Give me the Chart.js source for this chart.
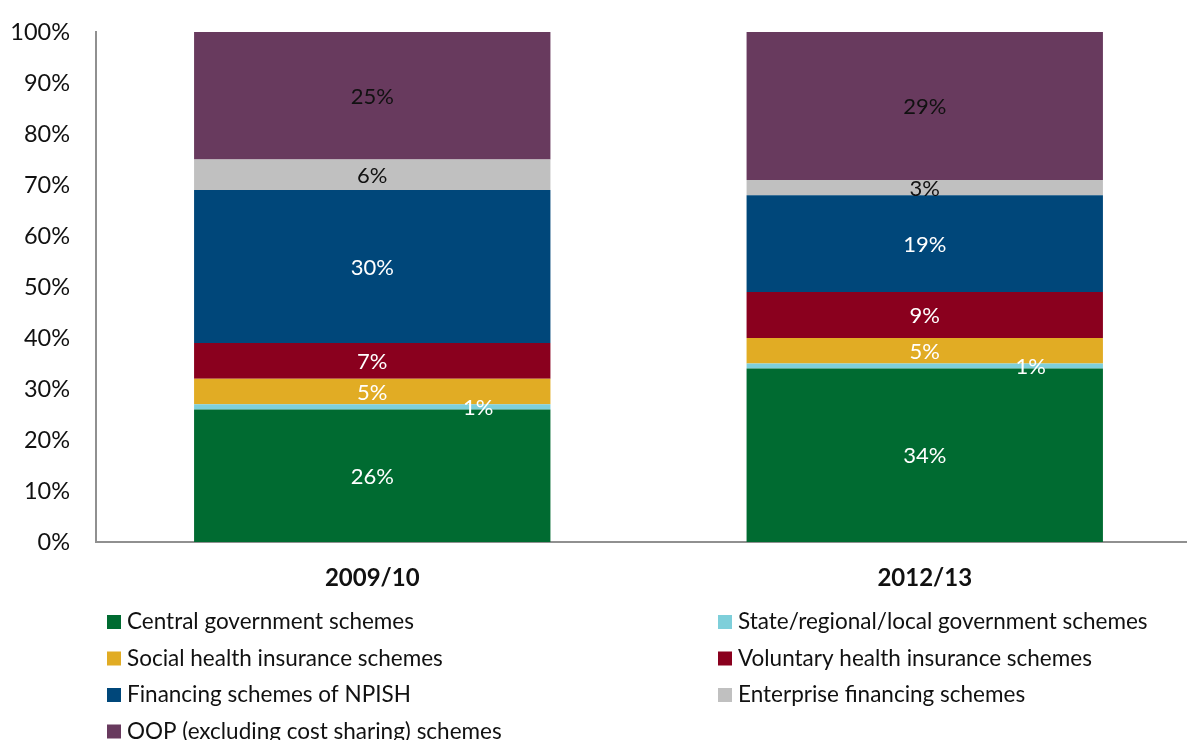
<!DOCTYPE html>
<html>
<head>
<meta charset="utf-8">
<script src="https://cdn.jsdelivr.net/npm/chart.js@4/dist/chart.umd.min.js"></script>
<style>
  html, body { margin: 0; padding: 0; background: #fff; overflow: hidden; }
  #wrap { width: 1201px; height: 740px; }
</style>
</head>
<body>
<div id="wrap"><canvas id="grafico"></canvas></div>
<script>
// periodos e esquemas de financiamento
const periodos = ["2009/10", "2012/13"];
const esquemas = [
  "Central government schemes",
  "State/regional/local government schemes",
  "Social health insurance schemes",
  "Voluntary health insurance schemes",
  "Financing schemes of NPISH",
  "Enterprise financing schemes",
  "OOP (excluding cost sharing) schemes"
];
const cores = ["#006B31", "#7ECFDA", "#E1AC24", "#8A001E", "#00477A", "#C0C0C0", "#683A5E"];
const coresTexto = ["#fff", "#fff", "#fff", "#fff", "#fff", "#111", "#111"];

// percentuais por esquema (2009/10, 2012/13)
const central = [26, 34];
const estadual = [1, 1];
const social = [5, 5];
const voluntario = [7, 9];
const npish = [30, 19];
const empresas = [6, 3];
const oop = [25, 29];
const valores = [central, estadual, social, voluntario, npish, empresas, oop];

const rotulosY = [0, 10, 20, 30, 40, 50, 60, 70, 80, 90, 100];

const fonte = "Lato, 'Open Sans', sans-serif";

const datasets = esquemas.map(function (nome, i) {
  return {
    label: nome,
    data: valores[i],
    backgroundColor: cores[i],
    borderWidth: 0,
    barPercentage: 0.645,
    categoryPercentage: 1
  };
});

// rotulos de valor dentro das barras
const rotulosBarras = {
  id: "rotulosBarras",
  afterDatasetsDraw(chart) {
    const ctx = chart.ctx;
    ctx.save();
    ctx.font = "22px " + fonte;
    ctx.textAlign = "center";
    ctx.textBaseline = "middle";
    chart.data.datasets.forEach(function (ds, i) {
      const meta = chart.getDatasetMeta(i);
      meta.data.forEach(function (bar, j) {
        let x = bar.x;
        const y = (bar.y + bar.base) / 2;
        if (i === 1) x += 106; // faixa fina: texto deslocado pra direita
        ctx.fillStyle = coresTexto[i];
        ctx.fillText(ds.data[j] + "%", x, y + 1);
      });
    });
    ctx.restore();
  }
};

// legenda em duas colunas
const legendaDuasColunas = {
  id: "legendaDuasColunas",
  afterDraw(chart) {
    const ctx = chart.ctx;
    ctx.save();
    ctx.font = "22.5px " + fonte;
    ctx.textBaseline = "middle";
    ctx.textAlign = "left";
    const colunas = [107, 718];
    chart.data.datasets.forEach(function (ds, i) {
      const col = colunas[i % 2];
      const y = 622 + Math.floor(i / 2) * 36.5;
      ctx.fillStyle = ds.backgroundColor;
      ctx.fillRect(col, y - 7, 14, 14);
      ctx.fillStyle = "#111";
      ctx.fillText(ds.label, col + 20, y);
    });
    ctx.restore();
  }
};

new Chart(document.getElementById("grafico"), {
  type: "bar",
  data: { labels: periodos, datasets: datasets },
  options: {
    responsive: true,
    maintainAspectRatio: false,
    animation: false,
    layout: { padding: 0 },
    plugins: {
      legend: { display: false },
      tooltip: { enabled: false }
    },
    scales: {
      x: {
        stacked: true,
        grid: { display: false, drawTicks: false },
        border: { color: "#909090", width: 2 },
        ticks: {
          padding: 22,
          color: "#111",
          font: { family: fonte, size: 24, weight: "bold" }
        },
        afterFit(scale) {
          scale.height = 198;
          scale.paddingLeft = 0;
          scale.paddingRight = 0;
        }
      },
      y: {
        stacked: true,
        min: 0,
        max: 100,
        afterBuildTicks(scale) {
          scale.ticks = rotulosY.map(function (v) { return { value: v }; });
        },
        grid: { display: false, drawTicks: false },
        border: { color: "#909090", width: 2 },
        ticks: {
          padding: 26,
          color: "#111",
          font: { family: fonte, size: 23.5 },
          callback: function (v) { return v + "%"; }
        },
        afterFit(scale) {
          scale.width = 96;
          scale.paddingTop = 32;
          scale.paddingBottom = 0;
        }
      }
    }
  },
  plugins: [rotulosBarras, legendaDuasColunas]
});
</script>
</body>
</html>
